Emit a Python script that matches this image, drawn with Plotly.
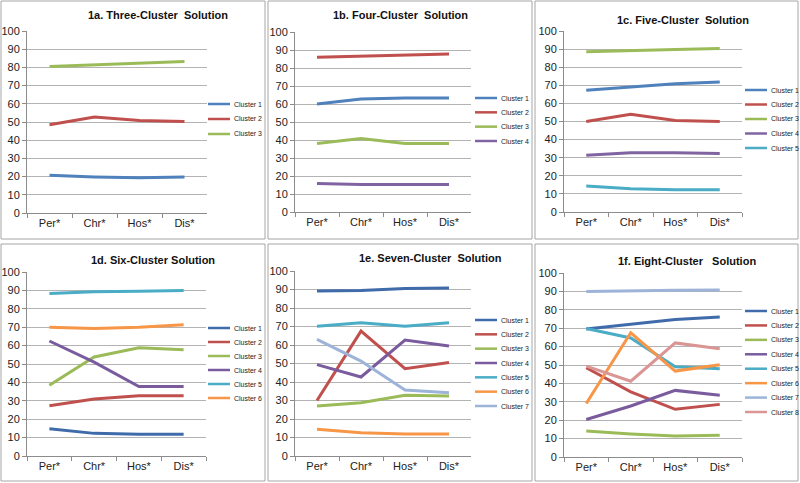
import plotly.graph_objects as go

categories = ["Per*", "Chr*", "Hos*", "Dis*"]
y_ticks = list(range(0, 101, 10))

titles = [
    "1a. Three-Cluster  Solution",
    "1b. Four-Cluster  Solution",
    "1c. Five-Cluster  Solution",
    "1d. Six-Cluster Solution",
    "1e. Seven-Cluster  Solution",
    "1f. Eight-Cluster   Solution",
]

# 1a. Three-cluster solution
sol3 = [
    [20.8, 19.8, 19.3, 19.8],
    [48.5, 52.8, 50.8, 50.3],
    [80.5, 81.3, 82.3, 83.3],
]
# 1b. Four-cluster solution
sol4 = [
    [60.0, 62.8, 63.3, 63.3],
    [86.0, 86.5, 87.3, 87.8],
    [38.0, 40.8, 38.0, 38.0],
    [15.8, 15.3, 15.3, 15.3],
]
# 1c. Five-cluster solution
sol5 = [
    [67.2, 69.0, 70.8, 71.8],
    [50.0, 54.0, 50.5, 50.0],
    [88.5, 89.3, 89.8, 90.3],
    [31.3, 32.8, 32.8, 32.3],
    [14.3, 12.8, 12.3, 12.3],
]
# 1d. Six-cluster solution
sol6 = [
    [14.8, 12.3, 11.8, 11.8],
    [27.3, 31.0, 32.8, 32.8],
    [38.5, 53.8, 58.8, 57.8],
    [62.5, 51.0, 37.8, 37.8],
    [88.3, 89.3, 89.5, 90.0],
    [70.0, 69.3, 70.0, 71.3],
]
# 1e. Seven-cluster solution
sol7 = [
    [89.2, 89.5, 90.5, 90.8],
    [30.0, 67.5, 47.2, 50.5],
    [27.0, 28.8, 32.8, 32.4],
    [49.4, 42.7, 62.7, 59.4],
    [70.2, 72.0, 70.2, 72.0],
    [14.4, 12.6, 11.9, 11.9],
    [63.0, 51.3, 35.7, 34.2],
]
# 1f. Eight-cluster solution
sol8 = [
    [69.6, 72.2, 74.7, 76.1],
    [48.5, 35.4, 25.9, 28.6],
    [14.1, 12.5, 11.4, 11.8],
    [20.4, 27.7, 36.2, 33.6],
    [69.8, 64.7, 49.0, 47.9],
    [29.1, 67.5, 46.7, 50.1],
    [89.9, 90.4, 90.6, 90.8],
    [49.4, 41.2, 62.0, 58.8],
]

solutions = [sol3, sol4, sol5, sol6, sol7, sol8]

palette_top = ["#4F81BD", "#C0504D", "#9BBB59", "#8064A2", "#4BACC6", "#F79646", "#95B3D7", "#D99694"]
palette_bot = ["#3F6BAA", "#C0504D", "#9BBB59", "#7A5C9E", "#4BACC6", "#F79646", "#9DB4D8", "#D99694"]

W, H = 800, 483

# plot areas in pixels: (x0, x1, ytop, ybottom)
areas = [
    (27, 207, 31, 213),
    (295, 471, 32, 212),
    (564, 742, 31, 212),
    (27, 206, 272, 456),
    (295, 471, 271, 456),
    (564, 742, 273, 457),
]
# legend placement (swatch left x, text left x, first item y, last item y)
legend_pos = [
    (208, 232, 104, 134),
    (475, 499, 98, 141),
    (745, 769, 90, 148),
    (208, 232, 328, 398),
    (475, 499, 320, 406),
    (745, 769, 311, 412),
]
title_pos = [(158, 15), (400, 15), (683, 20), (153, 260), (430, 258), (687, 261)]
panels = [
    (1, 1, 265, 239),
    (268, 1, 532, 239),
    (535, 1, 798, 239),
    (1, 244, 265, 481),
    (268, 244, 532, 481),
    (535, 244, 798, 481),
]

FONT = "Liberation Sans, Arial, sans-serif"
fig = go.Figure()
layout = dict(
    width=W, height=H,
    margin=dict(l=0, r=0, t=0, b=0, autoexpand=False),
    paper_bgcolor="white", plot_bgcolor="white",
    font=dict(family=FONT, color="#222222"),
    showlegend=False,
    shapes=[], annotations=[],
)

font_tick = dict(family=FONT, size=11, color="#222222")

for i, sol in enumerate(solutions):
    n = i + 1
    sfx = "" if n == 1 else str(n)
    pal = palette_top if i < 3 else palette_bot
    lx0, ltx, ly0, ly1 = legend_pos[i]
    step = (ly1 - ly0) / (len(sol) - 1)
    for k, vals in enumerate(sol):
        name = f"Cluster {k + 1}"
        fig.add_trace(go.Scatter(
            x=categories, y=vals, mode="lines",
            name=name,
            line=dict(color=pal[k], width=3),
            xaxis=f"x{sfx}", yaxis=f"y{sfx}",
        ))
        # legend entry
        yk = 1 - (ly0 + k * step) / H
        layout["shapes"].append(dict(
            type="line", xref="paper", yref="paper",
            x0=lx0 / W, x1=(lx0 + 22) / W, y0=yk, y1=yk,
            line=dict(color=pal[k], width=2.5),
        ))
        layout["annotations"].append(dict(
            text=name, x=ltx / W, y=yk, xref="paper", yref="paper",
            xanchor="left", yanchor="middle", showarrow=False,
            font=dict(family=FONT, size=7, color="#222222"),
        ))
    x0, x1, yt, yb = areas[i]
    layout[f"xaxis{sfx}"] = dict(
        domain=[x0 / W, x1 / W], anchor=f"y{sfx}", type="category",
        range=[-0.5, 3.5], tickson="boundaries", ticks="outside", ticklen=4,
        tickcolor="#8c8c8c", showline=True, linecolor="#8c8c8c", linewidth=1,
        showgrid=False, tickfont=font_tick, fixedrange=True,
    )
    layout[f"yaxis{sfx}"] = dict(
        domain=[1 - yb / H, 1 - yt / H], anchor=f"x{sfx}",
        range=[0, 100], tickvals=y_ticks, ticks="outside", ticklen=4,
        tickcolor="#8c8c8c", showline=True, linecolor="#8c8c8c", linewidth=1,
        showgrid=True, gridcolor="#b3b3b3", gridwidth=1, zeroline=False,
        tickfont=font_tick, fixedrange=True,
    )
    tx, ty = title_pos[i]
    layout["annotations"].append(dict(
        text=f"<b>{titles[i]}</b>", x=tx / W, y=1 - ty / H, xref="paper", yref="paper",
        xanchor="center", yanchor="middle", showarrow=False,
        font=dict(family=FONT, size=11, color="#111111"),
    ))
    px0, py0, px1, py1 = panels[i]
    layout["shapes"].append(dict(
        type="rect", xref="paper", yref="paper",
        x0=px0 / W, x1=px1 / W, y0=1 - py1 / H, y1=1 - py0 / H,
        line=dict(color="#a6a6a6", width=1), layer="below",
    ))

fig.update_layout(**layout)
fig.write_html(
    "out.html",
    config={"displayModeBar": False},
    post_script="document.body.style.margin='0';document.body.style.overflow='hidden';",
)
